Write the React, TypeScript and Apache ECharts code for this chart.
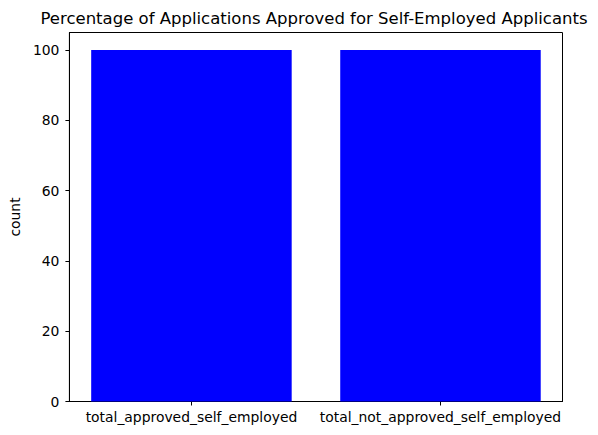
import React, { useEffect, useRef } from "react";
import * as echarts from "echarts";

const categories = ["total_approved_self_employed", "total_not_approved_self_employed"];
const counts = [100, 100];
const titleText = "Percentage of Applications Approved for Self-Employed Applicants";
const yName = "count";

export default function App() {
  const ref = useRef<HTMLDivElement>(null);
  useEffect(() => {
    const chart = echarts.init(ref.current!, null, { renderer: "svg" });
    const font = "DejaVu Sans";
    const positions = categories.map((_, i) => i);
    chart.setOption({
      animation: false,
      textStyle: { fontFamily: font },
      graphic: [
        {
          type: "text",
          x: 314,
          y: 18.5,
          style: {
            text: titleText,
            fontFamily: font,
            fontSize: 16.5,
            fill: "#000",
            align: "center",
            verticalAlign: "middle",
          },
        },
      ],
      grid: {
        left: 66,
        right: 35.5,
        top: 32.5,
        bottom: 33.5,
        show: true,
        borderColor: "#000",
        borderWidth: 1,
        backgroundColor: "transparent",
      },
      xAxis: {
        type: "value",
        min: -0.49,
        max: 1.49,
        axisLine: { show: true, onZero: false, lineStyle: { color: "#000", width: 1 } },
        axisTick: { show: true, length: 4, customValues: positions, lineStyle: { color: "#000" } },
        axisLabel: {
          color: "#000",
          fontSize: 13.9,
          fontFamily: font,
          margin: 8,
          customValues: positions,
          formatter: (v: number) => categories[Math.round(v)] ?? "",
        },
        splitLine: { show: false },
      },
      yAxis: {
        type: "value",
        min: 0,
        max: 105,
        interval: 20,
        name: yName,
        nameLocation: "middle",
        nameRotate: 90,
        nameGap: 44,
        nameTextStyle: { color: "#000", fontSize: 13.9, fontFamily: font },
        axisLine: { show: true, onZero: false, lineStyle: { color: "#000", width: 1 } },
        axisTick: { show: true, length: 4, lineStyle: { color: "#000" } },
        axisLabel: {
          color: "#000",
          fontSize: 13.9,
          fontFamily: font,
          margin: 10,
          showMaxLabel: false,
          formatter: (v: number) => (v % 20 === 0 ? String(v) : ""),
        },
        splitLine: { show: false },
      },
      series: [
        {
          type: "bar",
          data: counts.map((c, i) => [positions[i], c]),
          barWidth: 200.5,
          itemStyle: { color: "#0000ff" },
        },
      ],
    });
    return () => chart.dispose();
  }, []);
  return <div ref={ref} style={{ width: 598, height: 435, position: "absolute", left: 0, top: 0 }} />;
}
